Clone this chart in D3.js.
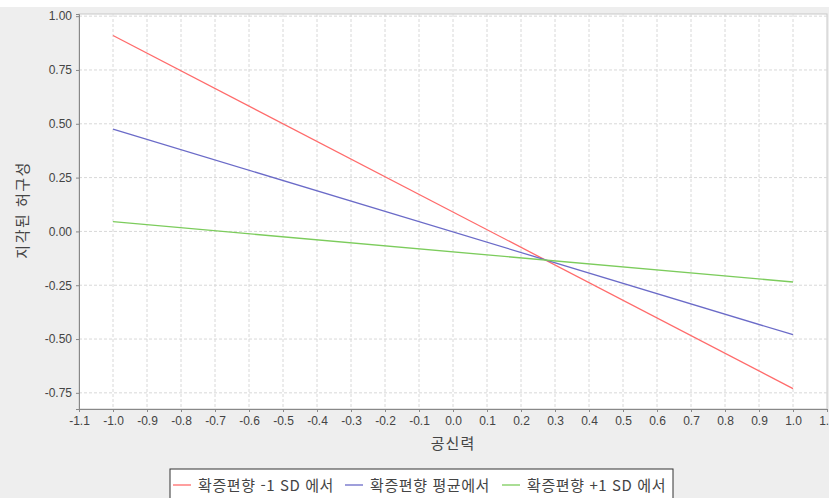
<!DOCTYPE html>
<html lang="ko">
<head>
  <meta charset="UTF-8">
  <title>지각된 허구성</title>
  <script src="https://d3js.org/d3.v7.min.js"></script>
  <style>
    html, body { margin: 0; padding: 0; background: #fff; }
    svg { display: block; }
    .tick text { font-family: "Liberation Sans", Arial, sans-serif; font-size: 12px; fill: #444; }
    .grid line { stroke: #d8d8d8; stroke-dasharray: 3,2; }
    .kr { font-family: "Noto Sans CJK KR", sans-serif; fill: #444; }
  </style>
</head>
<body>
  <div id="chart"></div>
  <script>
    // values
    const xValues = [-1.0, 1.0];
    const seriesNames = ["확증편향 -1 SD 에서", "확증편향 평균에서", "확증편향 +1 SD 에서"];
    const lowBias = [0.91, -0.73];
    const meanBias = [0.475, -0.48];
    const highBias = [0.045, -0.235];
    const colors = ["#ff6b6b", "#6b6bc8", "#7ccc5c"];
    const xTicks = d3.range(-11, 12).map(d => d / 10);
    const yTicks = [-0.75, -0.5, -0.25, 0, 0.25, 0.5, 0.75, 1.0];

    const width = 829, height = 498;
    const margin = { top: 14, right: 2, bottom: 89, left: 79 };

    const svg = d3.select("#chart").append("svg")
      .attr("width", width)
      .attr("height", height);

    svg.append("rect")
      .attr("x", 0).attr("y", 7)
      .attr("width", width).attr("height", height - 7)
      .attr("fill", "#eeeeee");

    const x = d3.scaleLinear().domain([-1.1, 1.1]).range([margin.left, width - margin.right]);
    const y = d3.scaleLinear().domain([-0.825, 1.01]).range([height - margin.bottom, margin.top]);

    // hyphen minus like the original, not the unicode minus
    const fmt = f => d => d3.format(f)(d).replace("−", "-");

    // plot area
    svg.append("rect")
      .attr("x", margin.left).attr("y", margin.top)
      .attr("width", width - margin.right - margin.left)
      .attr("height", height - margin.bottom - margin.top)
      .attr("fill", "#fff")
      .attr("stroke", "#c8c8c8");

    // grid
    svg.append("g").attr("class", "grid")
      .selectAll("line").data(xTicks.slice(1, -1)).enter().append("line")
      .attr("x1", d => x(d)).attr("x2", d => x(d))
      .attr("y1", margin.top).attr("y2", height - margin.bottom);
    svg.append("g").attr("class", "grid")
      .selectAll("line").data(yTicks).enter().append("line")
      .attr("x1", margin.left).attr("x2", width - margin.right)
      .attr("y1", d => y(d)).attr("y2", d => y(d));

    // axes
    const xAxis = svg.append("g")
      .attr("transform", `translate(0,${height - margin.bottom})`)
      .call(d3.axisBottom(x).tickValues(xTicks).tickFormat(fmt(".1f")).tickSize(3).tickPadding(4));
    const yAxis = svg.append("g")
      .attr("transform", `translate(${margin.left},0)`)
      .call(d3.axisLeft(y).tickValues(yTicks).tickFormat(fmt(".2f")).tickSize(3).tickPadding(4));
    [xAxis, yAxis].forEach(a => {
      a.select(".domain").attr("stroke", "#888");
      a.selectAll(".tick line").attr("stroke", "#888");
    });

    // lines
    const line = d3.line().x((d, i) => x(xValues[i])).y(d => y(d));
    [lowBias, meanBias, highBias].forEach((s, i) => {
      svg.append("path")
        .datum(s)
        .attr("d", line)
        .attr("fill", "none")
        .attr("stroke", colors[i])
        .attr("stroke-width", 1.3);
    });

    // axis titles
    svg.append("text").attr("class", "kr")
      .attr("x", x(0)).attr("y", 449)
      .attr("text-anchor", "middle").attr("font-size", 15)
      .attr("letter-spacing", 1)
      .text("공신력");
    svg.append("text").attr("class", "kr")
      .attr("transform", `translate(28,${y(0.1)}) rotate(-90)`)
      .attr("text-anchor", "middle").attr("font-size", 15)
      .attr("letter-spacing", 1.5)
      .text("지각된 허구성");

    // legend
    const legend = svg.append("g").attr("transform", "translate(170,469)");
    legend.append("rect")
      .attr("x", 0).attr("y", 0).attr("width", 503).attr("height", 32)
      .attr("fill", "#fff").attr("stroke", "#333");
    const itemX = [3, 175, 332];
    seriesNames.forEach((name, i) => {
      const g = legend.append("g").attr("transform", `translate(${itemX[i]},0)`);
      g.append("line")
        .attr("x1", 0).attr("x2", 18).attr("y1", 16).attr("y2", 16)
        .attr("stroke", colors[i]).attr("stroke-width", 1.3);
      g.append("text").attr("class", "kr")
        .attr("x", 25).attr("y", 22)
        .attr("font-size", 15).attr("fill", "#333")
        .attr("letter-spacing", 0.6)
        .text(name);
    });
  </script>
</body>
</html>
